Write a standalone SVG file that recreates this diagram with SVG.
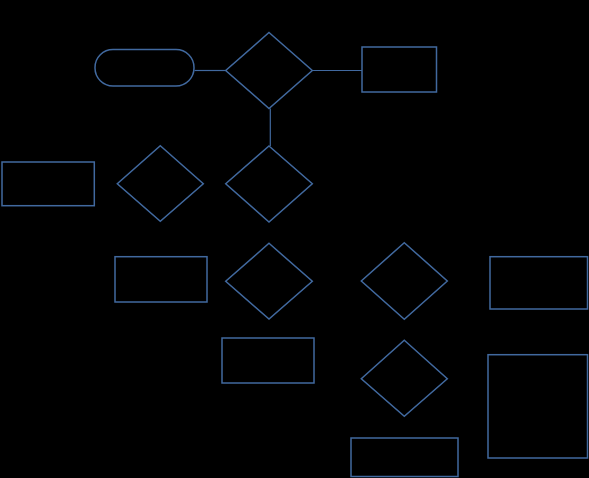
<svg xmlns="http://www.w3.org/2000/svg" width="589" height="478" viewBox="0 0 589 478">
<style>
.s{fill:none;stroke:#41699f;stroke-width:1.5}
.c{fill:none;stroke:#41699f;stroke-width:1.2}
</style>
<rect x="0" y="0" width="589" height="478" fill="#000000"/>
<g id="connectors">
<line class="c" x1="194.5" y1="70.5" x2="226" y2="70.5"/>
<line class="c" x1="312" y1="70.5" x2="362" y2="70.5"/>
<line class="c" x1="270.3" y1="108.5" x2="270.3" y2="146"/>
</g>
<g id="start"><rect class="s" x="95" y="49.5" width="99" height="36.5" rx="18" ry="18"/></g>
<g id="decision1"><polygon class="s" points="269,32.5 312.3,70.5 269,108.5 225.7,70.5"/></g>
<g id="process1"><rect class="s" x="362" y="47" width="74.5" height="45"/></g>
<g id="process2"><rect class="s" x="2" y="162" width="92.3" height="43.7"/></g>
<g id="decision2"><polygon class="s" points="160.3,145.7 203.3,183.7 160.3,221.3 117.3,183.7"/></g>
<g id="decision3"><polygon class="s" points="269,146 312.3,183.7 269,222 225.7,183.7"/></g>
<g id="process3"><rect class="s" x="115" y="256.7" width="92" height="45.3"/></g>
<g id="decision4"><polygon class="s" points="269,243.3 312.3,281.3 269,319 225.7,281.3"/></g>
<g id="process4"><rect class="s" x="222" y="338" width="92" height="45"/></g>
<g id="decision5"><polygon class="s" points="404.3,242.7 447.3,281 404.3,319.3 361.3,281"/></g>
<g id="process5"><rect class="s" x="490" y="256.7" width="97.5" height="52.3"/></g>
<g id="decision6"><polygon class="s" points="404.3,340.3 447.3,378.7 404.3,416.3 361.3,378.7"/></g>
<g id="process6"><rect class="s" x="488" y="354.7" width="99.5" height="103.3"/></g>
<g id="process7"><rect class="s" x="351" y="438" width="107" height="38.5"/></g>
</svg>
